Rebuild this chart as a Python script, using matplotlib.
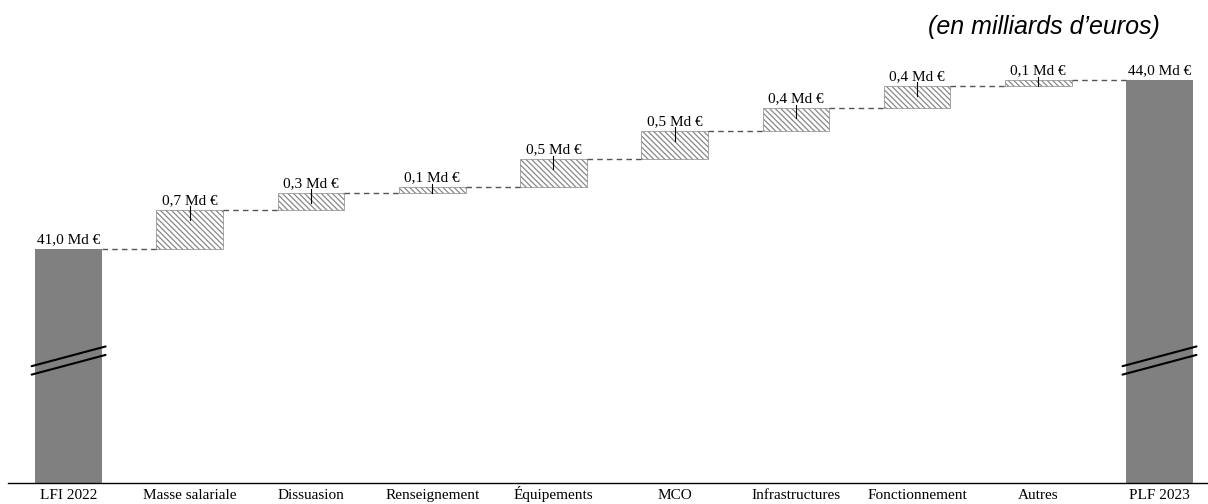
import matplotlib.pyplot as plt

plt.rcParams['hatch.linewidth'] = 0.9
plt.rcParams['hatch.color'] = 'black'

categories = ['LFI 2022', 'Masse salariale', 'Dissuasion', 'Renseignement', 'Équipements',
              'MCO', 'Infrastructures', 'Fonctionnement', 'Autres', 'PLF 2023']
start_total = 41.0
steps = [0.7, 0.3, 0.1, 0.5, 0.5, 0.4, 0.4, 0.1]
end_total = 44.0

ymin, ymax = 36.846, 44.533
width = 0.55
serif = 'Liberation Serif'


def fmt(v):
    return f'{v:.1f}'.replace('.', ',') + ' Md €'


fig = plt.figure(figsize=(12.08, 5.04), dpi=100)
ax = fig.add_axes([8 / 1208, 21 / 504, 1200 / 1208, 433 / 504])
ax.set_xlim(-0.5, 9.4)
ax.set_ylim(ymin, ymax)

# totals (grey bars, truncated axis)
for i, v in [(0, start_total), (9, end_total)]:
    ax.bar(i, v - ymin, bottom=ymin, width=width, color='#808080', edgecolor='none')
    ax.text(i, v + 0.05, fmt(v), ha='center', va='bottom', fontsize=11, family=serif)
    # axis break marks
    for dy in (0.0, -0.15):
        ax.plot([i - width / 2 - 0.03, i + width / 2 + 0.03],
                [38.92 + dy, 39.27 + dy], color='black', lw=1.5, solid_capstyle='round')

# increments
level = start_total
for k, s in enumerate(steps):
    i = k + 1
    ax.plot([i - 1 + width / 2, i - width / 2], [level, level],
            color='#555555', lw=1, ls=(0, (4, 3)))
    ax.bar(i, s, bottom=level, width=width, color='white', edgecolor='#888888',
           linewidth=0.5, hatch='\\' * 6)
    top = level + s
    ax.plot([i, i], [top + 0.06, max(top - 0.18, level)], color='black', lw=0.8)
    ax.text(i, top + 0.05, fmt(s), ha='center', va='bottom', fontsize=11, family=serif)
    level = top
ax.plot([8 + width / 2, 9 - width / 2], [level, level],
        color='#555555', lw=1, ls=(0, (4, 3)))

for sp in ['top', 'right', 'left']:
    ax.spines[sp].set_visible(False)
ax.spines['bottom'].set_color('black')
ax.spines['bottom'].set_linewidth(1)
ax.set_yticks([])
ax.set_xticks(range(len(categories)))
ax.set_xticklabels(categories, family=serif, fontsize=11)
ax.tick_params(axis='x', length=0, pad=11.3)
for lab in ax.get_xticklabels():
    lab.set_verticalalignment('baseline')

fig.text(1160 / 1208, 1 - 27 / 504, '(en milliards d’euros)', ha='right', va='center',
         fontsize=18, style='italic', family='Liberation Sans')

fig.savefig('out.png', dpi=100)
